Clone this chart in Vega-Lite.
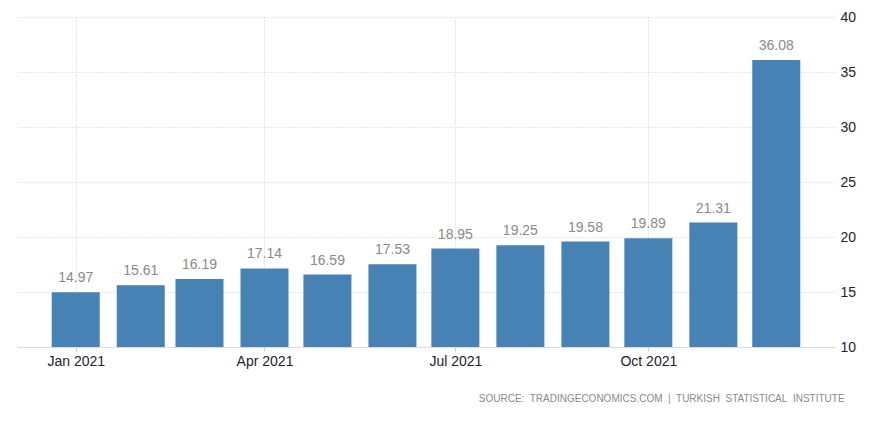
{
  "$schema": "https://vega.github.io/schema/vega-lite/v6.json",
  "width": 818,
  "height": 330,
  "autosize": "none",
  "padding": {"left": 17, "top": 17, "right": 53, "bottom": 80},
  "background": "white",
  "config": {
    "view": {"stroke": null},
    "font": "Liberation Sans"
  },
  "title": {
    "text": "SOURCE:\u00a0 TRADINGECONOMICS.COM\u00a0 |\u00a0 TURKISH\u00a0 STATISTICAL\u00a0 INSTITUTE",
    "orient": "bottom",
    "anchor": "end",
    "fontSize": 10,
    "fontWeight": "normal",
    "color": "#8a8a8a",
    "font": "Liberation Sans",
    "offset": 26,
    "dx": -11
  },
  "data": {
    "values": [
      {"date": "2021-01-01", "value": 14.97},
      {"date": "2021-02-01", "value": 15.61},
      {"date": "2021-03-01", "value": 16.19},
      {"date": "2021-04-01", "value": 17.14},
      {"date": "2021-05-01", "value": 16.59},
      {"date": "2021-06-01", "value": 17.53},
      {"date": "2021-07-01", "value": 18.95},
      {"date": "2021-08-01", "value": 19.25},
      {"date": "2021-09-01", "value": 19.58},
      {"date": "2021-10-01", "value": 19.89},
      {"date": "2021-11-01", "value": 21.31},
      {"date": "2021-12-01", "value": 36.08}
    ]
  },
  "encoding": {
    "x": {
      "field": "date",
      "type": "temporal",
      "scale": {
        "type": "utc",
        "nice": false,
        "padding": 0,
        "domain": [
          {"year": 2020, "month": 12, "date": 4, "utc": true},
          {"year": 2021, "month": 12, "date": 29, "utc": true}
        ]
      },
      "axis": {
        "title": null,
        "values": [
          {"year": 2021, "month": 1, "date": 1, "utc": true},
          {"year": 2021, "month": 4, "date": 1, "utc": true},
          {"year": 2021, "month": 7, "date": 1, "utc": true},
          {"year": 2021, "month": 10, "date": 1, "utc": true}
        ],
        "labelExpr": "utcFormat(datum.value, '%b %Y')",
        "labelFontSize": 14,
        "labelColor": "#222233",
        "labelFont": "Liberation Sans",
        "labelPadding": 3,
        "tickSize": 4,
        "tickColor": "#cccccc",
        "domainColor": "#c8c8c8",
        "domainDash": [1, 1],
        "grid": true,
        "gridColor": "#cfcfcf",
        "gridDash": [1, 2]
      }
    },
    "y": {
      "field": "value",
      "type": "quantitative",
      "scale": {"domain": [10, 40], "nice": false, "zero": false},
      "axis": {
        "title": null,
        "orient": "right",
        "values": [10, 15, 20, 25, 30, 35, 40],
        "ticks": false,
        "domain": false,
        "labelPadding": 5,
        "labelFontSize": 14,
        "labelColor": "#222233",
        "labelFont": "Liberation Sans",
        "grid": true,
        "gridColor": "#cfcfcf",
        "gridDash": [1, 2]
      }
    }
  },
  "layer": [
    {
      "mark": {"type": "bar", "size": 48, "color": "#4682b4", "clip": true}
    },
    {
      "mark": {
        "type": "text",
        "baseline": "alphabetic",
        "align": "center",
        "dy": -10,
        "fontSize": 14,
        "color": "#8a8a8a",
        "font": "Liberation Sans"
      },
      "encoding": {
        "text": {"field": "value", "type": "quantitative", "format": ".2f"}
      }
    }
  ]
}
